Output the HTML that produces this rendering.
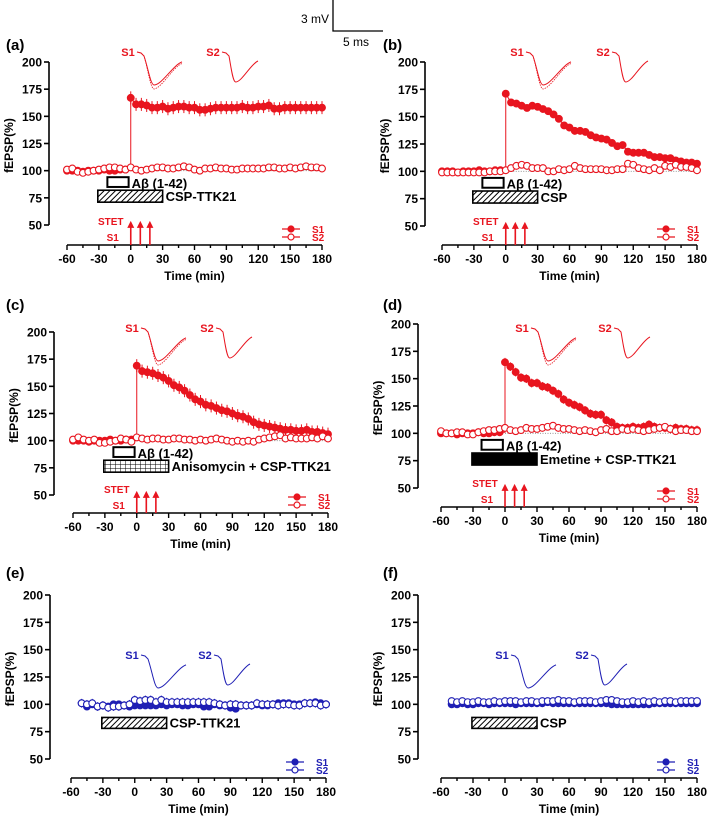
<!DOCTYPE html>
<html><head><meta charset="utf-8"><style>
html,body{margin:0;padding:0;background:#fff}
svg{display:block;font-family:"Liberation Sans",Arial,sans-serif}
</style></head><body>
<svg id="fig" width="709" height="820" viewBox="0 0 709 820" xmlns="http://www.w3.org/2000/svg">
<defs>
<pattern id="hatch" patternUnits="userSpaceOnUse" width="4" height="4" patternTransform="rotate(45)"><rect width="4" height="4" fill="#fff"/><line x1="0" y1="0" x2="0" y2="4" stroke="#000" stroke-width="2"/></pattern>
<pattern id="grid" patternUnits="userSpaceOnUse" width="5" height="4"><rect width="5" height="4" fill="#fff"/><path d="M0 0H5M0 0V4" stroke="#000" stroke-width="1"/></pattern>
</defs>
<g>
<path d="M333 0V31H383" fill="none" stroke="#000" stroke-width="1.3"/>
<text x="329" y="23" font-size="12" text-anchor="end">3 mV</text>
<text x="356" y="46" font-size="12" text-anchor="middle">5 ms</text>
</g>
</svg>
<script>
const TIMES=[-60,-55,-50,-45,-40,-35,-30,-25,-20,-15,-10,-5,0,5,10,15,20,25,30,35,40,45,50,55,60,65,70,75,80,85,90,95,100,105,110,115,120,125,130,135,140,145,150,155,160,165,170,175,180];
const X_TICKS=[-60,-30,0,30,60,90,120,150,180];
const Y_TICKS=[50,75,100,125,150,175,200];
const BASE_S1=[100,100,100,99,100,100,100,101,100,100,101,101];
const A_S1=BASE_S1.concat([167,161,161,160,158,158,159,157,158,159,159,158,158,156,156,157,158,158,158,158,158,159,158,158,159,159,160,157,157,158,158,158,158,158,158,158,158]);
const A_S2=[101,102,99,98,99,100,101,102,103,103,102,101,103,101,100,101,102,103,103,102,102,103,104,103,101,100,102,102,103,102,102,101,101,102,102,102,102,102,103,103,102,102,103,102,103,104,103,103,102];
const B_S1=BASE_S1.concat([171,163,162,160,158,160,159,157,155,152,148,142,140,137,137,136,133,131,130,129,126,123,124,118,117,117,117,115,113,113,112,112,110,109,108,108,107]);
const B_S2=[99,99,99,99,99,99,99,99,99,100,100,100,101,103,105,106,105,103,103,103,100,100,102,101,102,105,103,102,102,102,102,101,101,102,102,107,106,103,102,101,103,101,105,104,106,104,104,103,101];
const C_S1=BASE_S1.concat([169,164,163,162,160,158,155,151,149,146,142,138,136,133,132,130,128,127,125,123,122,120,117,115,114,113,112,111,110,110,109,109,110,108,108,107,106]);
const C_S2=[101,103,101,100,101,98,98,99,100,102,101,99,103,102,101,102,102,101,101,102,102,101,101,100,101,100,101,102,101,100,99,100,99,100,99,101,102,103,104,105,102,103,102,102,102,103,102,104,102];
const D_S1=BASE_S1.concat([165,161,156,151,150,146,146,143,142,139,136,131,128,126,124,121,118,117,117,112,110,106,105,105,106,105,106,108,106,105,105,104,105,104,104,103,103]);
const D_S2=[102,100,100,101,101,99,99,101,102,103,103,104,105,103,102,103,105,104,104,105,106,107,105,104,104,103,102,103,102,101,103,104,102,102,104,103,104,103,102,103,104,105,106,104,102,103,103,102,102];
const E_S1=[null,null,101,98,100,98,99,98,100,100,99,98,99,99,99,99,99,100,99,100,100,99,99,100,100,98,98,100,99,99,97,96,99,99,99,100,99,99,100,101,101,101,100,100,101,101,102,101,100];
const E_S2=[null,null,101,100,101,98,99,97,98,98,99,100,104,103,104,104,102,104,102,102,102,102,102,102,102,102,102,101,100,99,100,100,99,99,99,101,100,100,100,99,100,100,99,99,101,101,101,99,100];
const F_S1=[null,null,100,100,101,100,100,101,101,100,101,101,101,101,100,101,101,101,101,101,102,101,101,101,101,101,101,101,101,101,101,101,100,100,100,100,100,100,100,100,101,101,101,101,101,101,101,101,101];
const F_S2=[null,null,103,102,103,102,102,103,102,102,103,102,103,103,103,102,103,103,102,103,103,103,104,103,103,102,103,103,103,102,103,104,104,103,102,102,103,102,103,102,103,102,103,103,102,103,103,103,103];
const ERR_S1=[6,2,6,4,2,2];
const ERR_S2=[1,1,3,1,4,1];

const RED='#e8151f', BLUE='#1f1fb4';
const NS='http://www.w3.org/2000/svg';
const svg=document.getElementById('fig');
function mk(tag,attrs,parent){const e=document.createElementNS(NS,tag);for(const k in attrs)e.setAttribute(k,attrs[k]);(parent||svg).appendChild(e);return e;}

const PANELS=[
 {id:'a',label:'(a)',lx:6,ly:50,ax:49,y200:62,y50:225,xb:245,x0:67,x1:322,col:RED,s1:A_S1,s2:A_S2,ab:true,drug:'CSP-TTK21',fill:'url(#hatch)',arrows:true,tr:[61,146],tY:52},
 {id:'b',label:'(b)',lx:383,ly:50,ax:425,y200:62,y50:226,xb:245,x0:442,x1:697,col:RED,s1:B_S1,s2:B_S2,ab:true,drug:'CSP',fill:'url(#hatch)',arrows:true,tr:[75,161],tY:52},
 {id:'c',label:'(c)',lx:6,ly:310,ax:54,y200:332,y50:495,xb:513,x0:73,x1:328,col:RED,s1:C_S1,s2:C_S2,ab:true,drug:'Anisomycin + CSP-TTK21',fill:'url(#grid)',arrows:true,tr:[59,134],tY:328},
 {id:'d',label:'(d)',lx:383,ly:310,ax:418,y200:324,y50:488,xb:507,x0:441,x1:697,col:RED,s1:D_S1,s2:D_S2,ab:true,drug:'Emetine + CSP-TTK21',fill:'#000',arrows:true,tr:[81,164],tY:328},
 {id:'e',label:'(e)',lx:6,ly:578,ax:50,y200:595,y50:759,xb:778,x0:71,x1:326,col:BLUE,s1:E_S1,s2:E_S2,ab:false,drug:'CSP-TTK21',fill:'url(#hatch)',arrows:false,tr:[61,134],tY:655},
 {id:'f',label:'(f)',lx:383,ly:578,ax:418,y200:595,y50:759,xb:778,x0:441,x1:697,col:BLUE,s1:F_S1,s2:F_S2,ab:false,drug:'CSP',fill:'url(#hatch)',arrows:false,tr:[61,141],tY:655}
];

function trace(g,x,y,w,d,col,dual){
  const p=`M${x} ${y} l4 1 l3 3 C${x+w*0.25} ${y+d*0.5} ${x+w*0.3} ${y+d} ${x+w*0.38} ${y+d} C${x+w*0.55} ${y+d} ${x+w*0.8} ${y+d*0.4} ${x+w} ${y+d*0.3}`;
  mk('path',{d:p,fill:'none',stroke:col,'stroke-width':1},g);
  if(dual){const p2=`M${x} ${y} l4 1 l3 3 C${x+w*0.25} ${y+d*0.55} ${x+w*0.3} ${y+d+4} ${x+w*0.38} ${y+d+4} C${x+w*0.55} ${y+d+3} ${x+w*0.8} ${y+d*0.45} ${x+w} ${y+d*0.35}`;
  mk('path',{d:p2,fill:'none',stroke:col,'stroke-width':0.8,'stroke-dasharray':'1.5 1'},g);}
}

PANELS.forEach((P,pi)=>{
  const g=mk('g',{});
  
  
  const X=t=>P.x0+(t+60)*(P.x1-P.x0)/240;
  const Y=v=>P.y50+(v-50)*(P.y200-P.y50)/150;
  const lab=mk('text',{x:P.lx,y:P.ly,'font-size':15,'font-weight':'bold'},g);lab.textContent=P.label;
  
  
  const ya=mk('g',{},g);
  
  
  mk('line',{x1:P.ax,y1:Y(200),x2:P.ax,y2:Y(50),stroke:'#000','stroke-width':1.6},ya);
  Y_TICKS.forEach(v=>{mk('line',{x1:P.ax-5,y1:Y(v),x2:P.ax,y2:Y(v),stroke:'#000','stroke-width':1.6},ya);
    const t=mk('text',{x:P.ax-7,y:Y(v)+4.5,'font-size':12,'font-weight':'bold','text-anchor':'end'},ya);t.textContent=v;});
  const yt=mk('text',{x:0,y:0,'font-size':12,'font-weight':'bold','text-anchor':'middle',transform:`translate(${P.ax-36},${(Y(200)+Y(50))/2+2}) rotate(-90)`},ya);
  yt.textContent='fEPSP(%)';
  
  
  const xa=mk('g',{},g);
  
  
  mk('line',{x1:X(-60),y1:P.xb,x2:X(180),y2:P.xb,stroke:'#000','stroke-width':1.6},xa);
  for(let t=-60;t<=180;t+=15){const maj=X_TICKS.includes(t);mk('line',{x1:X(t),y1:P.xb,x2:X(t),y2:P.xb+(maj?5:3),stroke:'#000','stroke-width':1.4},xa);}
  X_TICKS.forEach(t=>{const tx=mk('text',{x:X(t),y:P.xb+18,'font-size':12,'font-weight':'bold','text-anchor':'middle'},xa);tx.textContent=t;});
  const xt=mk('text',{x:X(60),y:P.xb+35,'font-size':12,'font-weight':'bold','text-anchor':'middle'},xa);
  xt.textContent='Time (min)';
  
  
  if(P.ab) mk('line',{x1:X(0),y1:Y(100),x2:X(180),y2:Y(100),stroke:'#888','stroke-width':0.8,'stroke-dasharray':'1 1.5'},g);
  if(P.ab){const r=mk('rect',{x:X(-22),y:Y(94),width:X(-2)-X(-22),height:Y(85)-Y(94),fill:'#fff',stroke:'#000','stroke-width':2},g);
    
    
    const t=mk('text',{x:X(-2)+3,y:Y(85)+1,'font-size':13,'font-weight':'bold'},g);t.textContent='Aβ (1-42)';}
  const dy=P.ab?[82,71]:[88,78];
  const dr=mk('rect',{x:X(-31),y:Y(dy[0]),width:X(30)-X(-31),height:Y(dy[1])-Y(dy[0]),fill:P.fill,stroke:'#000','stroke-width':1.6},g);
  
  
  const dt=mk('text',{x:X(30)+3,y:Y(dy[1])-1,'font-size':13,'font-weight':'bold'},g);dt.textContent=P.drug;
  if(P.arrows){[0,9,18].forEach(t=>{mk('line',{x1:X(t),y1:P.xb,x2:X(t),y2:Y(52),stroke:P.col,'stroke-width':1.6},g);
      mk('path',{d:`M${X(t)-3.5} ${Y(52)+5}L${X(t)} ${Y(52)-2}L${X(t)+3.5} ${Y(52)+5}Z`,fill:P.col},g);});
    const s=mk('text',{x:X(0)-20,y:P.xb-20,'font-size':10,'font-weight':'bold','text-anchor':'middle',fill:P.col},g);s.textContent='STET';
    const s1=mk('text',{x:X(0)-18,y:P.xb-4,'font-size':10,'font-weight':'bold','text-anchor':'middle',fill:P.col},g);s1.textContent='S1';}
  const lg=mk('g',{},g);
  
  
  [[P.xb-16,'S1',true],[P.xb-8,'S2',false]].forEach(([yy,n,f])=>{
    mk('line',{x1:X(180)-40,y1:yy,x2:X(180)-22,y2:yy,stroke:P.col,'stroke-width':1.2},lg);
    mk('circle',{cx:X(180)-31,cy:yy,r:3,fill:f?P.col:'#fff',stroke:P.col,'stroke-width':1.2},lg);
    const t=mk('text',{x:X(180)-10,y:yy+4,'font-size':10,'font-weight':'bold',fill:P.col},lg);t.textContent=n;});
  const tg=mk('g',{},g);
  
  
  P.tr.forEach((off,i)=>{const lx=X(-60)+off;
    const t=mk('text',{x:lx,y:P.tY+4,'font-size':11,'font-weight':'bold','text-anchor':'middle',fill:P.col},tg);t.textContent='S'+(i+1);
    trace(tg,lx+9,P.tY,i==0?45:36,i==0?33:30,P.col,P.col==RED&&i==0);});
  [[P.s1,true,ERR_S1[pi]],[P.s2,false,ERR_S2[pi]]].forEach(([arr,filled,err])=>{
    const sg=mk('g',{},g);
    
    
    let d='';let prev=null;
    TIMES.forEach((t,i)=>{if(arr[i]==null)return;
      if(filled&&t===0&&prev!=null) d+='L'+X(0)+' '+Y(prev);
      d+=(d?'L':'M')+X(t)+' '+Y(arr[i]);prev=arr[i];});
    mk('path',{d:d,fill:'none',stroke:P.col,'stroke-width':1},sg);
    TIMES.forEach((t,i)=>{const v=arr[i];if(v==null)return;
      const e=(filled&&t<0)?1:err;
      mk('line',{x1:X(t),y1:Y(v-e),x2:X(t),y2:Y(v+e),stroke:P.col,'stroke-width':1},sg);
      const c=mk('circle',{cx:X(t),cy:Y(v),r:3.4,fill:filled?P.col:'#fff',stroke:P.col,'stroke-width':1.1},sg);
      
      });
  });
});
</script>
</body></html>
